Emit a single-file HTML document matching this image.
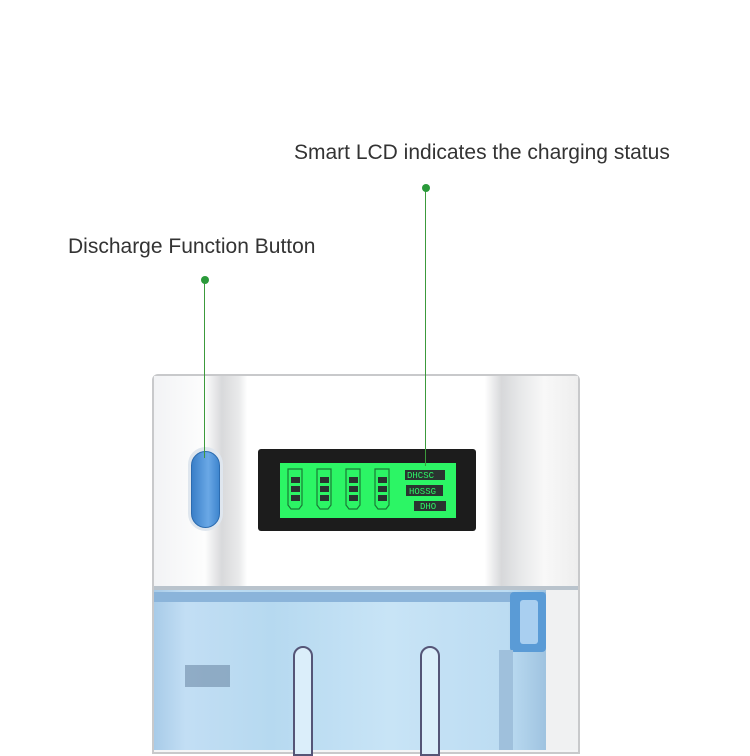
<!DOCTYPE html><html><head><style>
body{margin:0;width:750px;height:750px;background:#fff;position:relative;overflow:hidden;font-family:"Liberation Sans",sans-serif}
.a{position:absolute}
.t{position:absolute;font-size:21px;color:#333;white-space:nowrap}
</style></head><body>
<div class="t" style="left:294px;top:141px">Smart LCD indicates the charging status</div>
<div class="t" style="left:68px;top:235px">Discharge Function Button</div>
<!-- body -->
<div class="a" style="left:152px;top:374px;width:428px;height:380px;background:#f4f5f6;border:2px solid #c8c9cb;border-radius:6px 6px 0 0;box-sizing:border-box"></div>
<div class="a" style="left:154px;top:376px;width:424px;height:212px;background:linear-gradient(90deg,#f2f3f5 0,#fdfdfd 12%,#d8d9db 16%,#e9eaeb 20%,#fff 22%,#fff 78%,#d7d8da 82%,#e6e7e8 86%,#f8f8f8 92%,#eeeeee 100%)"></div>
<div class="a" style="left:154px;top:586px;width:424px;height:4px;background:#b9c3cc"></div>
<!-- blue section -->
<div class="a" style="left:154px;top:590px;width:392px;height:160px;background:linear-gradient(90deg,#a8cbe8 0,#c2def4 8%,#b6d9f0 30%,#c8e4f6 60%,#bcdcf2 90%,#9fc3e0 100%)"></div>
<div class="a" style="left:154px;top:592px;width:392px;height:10px;background:#8bb4da"></div>
<div class="a" style="left:185px;top:665px;width:45px;height:22px;background:#6e8aa6;opacity:.6"></div>
<div class="a" style="left:510px;top:592px;width:36px;height:60px;background:#5a9bd6;border-radius:4px"></div>
<div class="a" style="left:520px;top:600px;width:18px;height:44px;background:#a9cff0;border-radius:3px"></div>
<div class="a" style="left:546px;top:590px;width:32px;height:160px;background:#f0f1f2"></div>
<div class="a" style="left:499px;top:650px;width:14px;height:100px;background:#9fc0dc"></div>
<div class="a" style="left:293px;top:646px;width:20px;height:110px;border:2px solid #557;border-radius:10px 10px 0 0;background:#dbeefa;box-sizing:border-box"></div>
<div class="a" style="left:420px;top:646px;width:20px;height:110px;border:2px solid #557;border-radius:10px 10px 0 0;background:#dbeefa;box-sizing:border-box"></div>
<!-- button -->
<div class="a" style="left:188px;top:447px;width:35px;height:84px;border-radius:18px;background:#dfe6ee"></div>
<div class="a" style="left:191px;top:451px;width:29px;height:77px;border-radius:15px;background:linear-gradient(90deg,#3a7fc8,#6aa8e6 60%,#3f86cf);border:1px solid #2c6cb0;box-sizing:border-box"></div>
<!-- LCD -->
<div class="a" style="left:258px;top:449px;width:218px;height:82px;background:#1c1c1c;border-radius:3px"></div>
<div class="a" style="left:280px;top:463px;width:176px;height:55px;background:#2cf565"></div>
<svg class="a" style="left:280px;top:463px" width="176" height="55">
<g fill="none" stroke="#1a7a36" stroke-width="1.2">
<path d="M8 6h14v36l-3 4h-8l-3-4z"/><path d="M37 6h14v36l-3 4h-8l-3-4z"/><path d="M66 6h14v36l-3 4h-8l-3-4z"/><path d="M95 6h14v36l-3 4h-8l-3-4z"/></g>
<g fill="#2a3330">
<rect x="11" y="14" width="9" height="6"/><rect x="11" y="23" width="9" height="6"/><rect x="11" y="32" width="9" height="6"/>
<rect x="40" y="14" width="9" height="6"/><rect x="40" y="23" width="9" height="6"/><rect x="40" y="32" width="9" height="6"/>
<rect x="69" y="14" width="9" height="6"/><rect x="69" y="23" width="9" height="6"/><rect x="69" y="32" width="9" height="6"/>
<rect x="98" y="14" width="9" height="6"/><rect x="98" y="23" width="9" height="6"/><rect x="98" y="32" width="9" height="6"/>
<rect x="125" y="7" width="40" height="10"/><rect x="126" y="22" width="37" height="11"/><rect x="134" y="38" width="32" height="10"/></g>
<g font-family="Liberation Mono" font-size="9" fill="#2cf565"><text x="127" y="15">DHCSC</text><text x="129" y="31">HOSSG</text><text x="140" y="46">DHO</text></g>
</svg>
<!-- leader lines -->
<div class="a" style="left:425px;top:188px;width:1px;height:278px;background:#3c9a3c"></div>
<div class="a" style="left:204px;top:280px;width:1px;height:178px;background:#3c9a3c"></div>
<div class="a" style="left:422px;top:184px;width:8px;height:8px;border-radius:50%;background:#2a9a3a"></div>
<div class="a" style="left:201px;top:276px;width:8px;height:8px;border-radius:50%;background:#2a9a3a"></div>
</body></html>
